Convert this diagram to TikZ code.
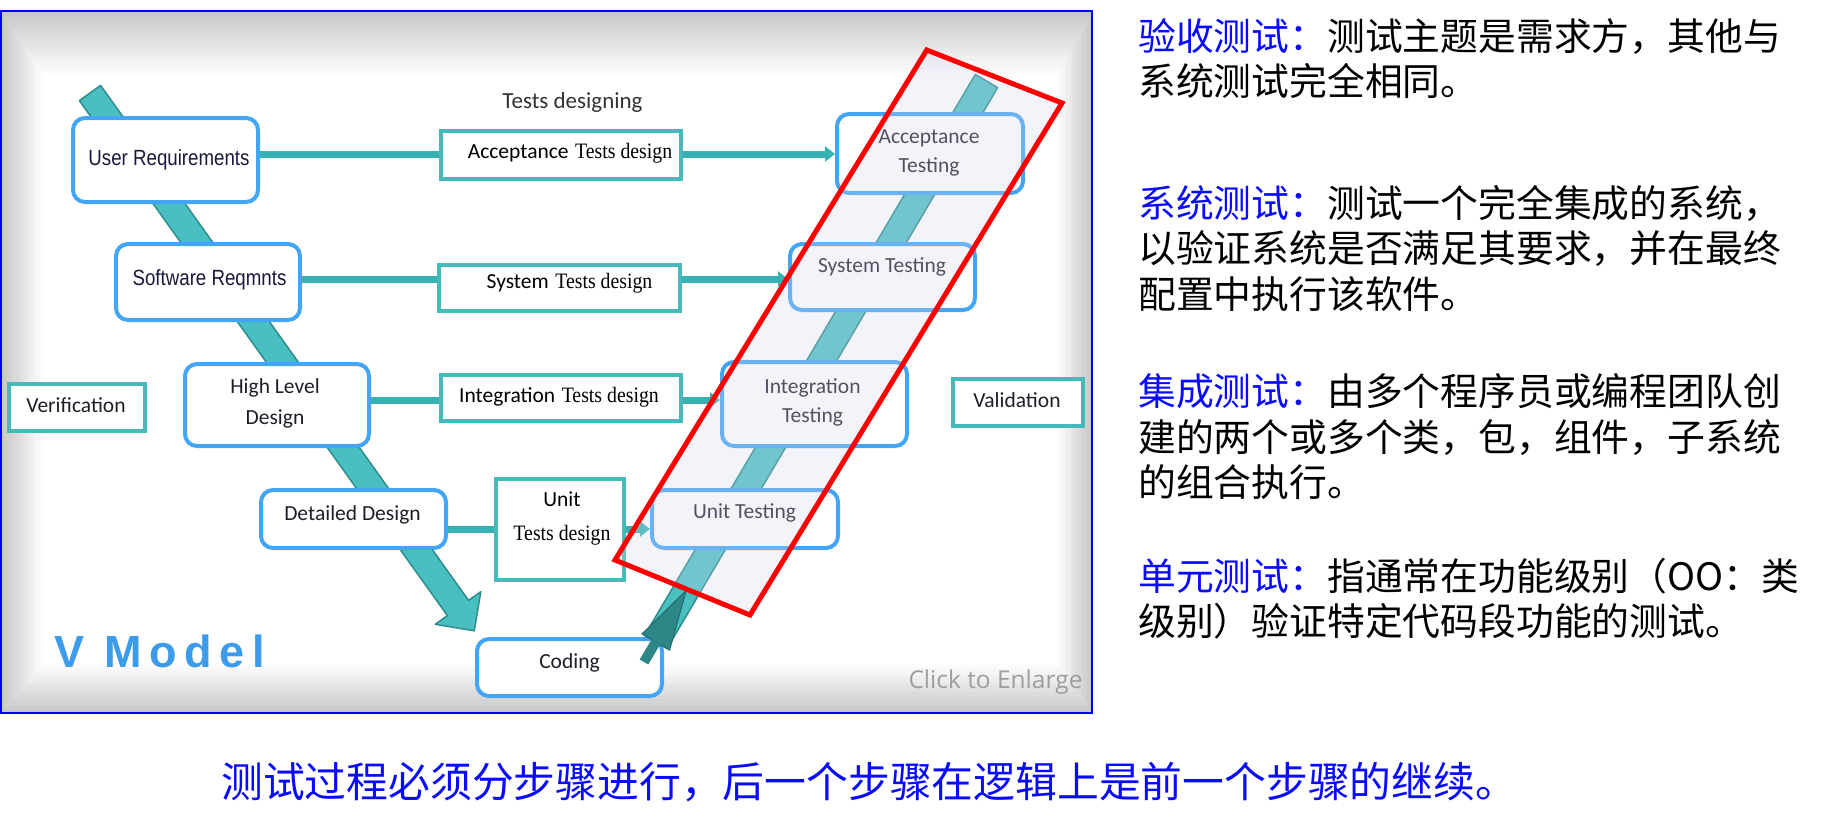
\documentclass[tikz,border=0pt]{standalone}
\usepackage{fontspec}
\usetikzlibrary{arrows.meta}
\newfontfamily\cjk{Noto Sans CJK SC}
\newfontfamily\boxfont{Carlito}
\newfontfamily\narrowfont{Liberation Sans}[FakeStretch=0.85]
\newfontfamily\tdfont{Liberation Serif}[FakeStretch=0.9]
\newfontfamily\osfont{Open Sans}
\newfontfamily\vfont{Liberation Sans}[LetterSpace=17]
\definecolor{rblue}{RGB}{66,165,245}
\definecolor{tealbox}{RGB}{70,186,186}
\definecolor{tealline}{RGB}{55,178,178}
\definecolor{band}{RGB}{74,191,193}
\definecolor{bandedge}{RGB}{46,140,140}
\definecolor{darkhead}{RGB}{45,135,135}
\definecolor{lav}{RGB}{214,214,240}
\definecolor{vblue}{RGB}{60,155,235}
\definecolor{txtblue}{RGB}{10,10,255}
\definecolor{boxtxt}{RGB}{30,30,40}
\definecolor{navytxt}{RGB}{25,25,60}
\tikzset{
 rbox/.style={draw=rblue, line width=4pt, rounded corners=12pt, fill=white, inner sep=0pt},
 tbox/.style={draw=tealbox, line width=3.5pt, fill=white, inner sep=0pt},
 lbl/.style={inner sep=0pt, text=boxtxt, font=\boxfont\fontsize{21.5}{29}\selectfont, align=center},
 nlbl/.style={inner sep=0pt, text=navytxt, font=\narrowfont\fontsize{22}{26}\selectfont},
 tdl/.style={inner sep=0pt, text=black, font=\fontsize{21.5}{26}\selectfont, align=center},
 conn/.style={draw=tealline, line width=7pt},
 connshadow/.style={draw=black, line width=7pt, draw opacity=0.18, yshift=-3pt},
 connarrow/.style={conn, -{Triangle[length=10pt,width=15pt]}},
 cn/.style={inner sep=0pt, anchor=base west, font=\cjk\fontsize{37.8}{45}\selectfont},
 bandstyle/.style={fill=band, draw=bandedge, line width=1.5pt, line join=round},
}
\begin{document}
\begin{tikzpicture}[x=1pt,y=-1pt]
\useasboundingbox (0,0) rectangle (1826,831);
% background vignette
\foreach \i in {0,...,14} {
  \pgfmathtruncatemacro\g{22*(1-\i/14)}
  \fill[black!\g] (1+3*\i, 11+4.5*\i) rectangle (1092-2.5*\i, 713-3.5*\i);
}
% left band
\path[bandstyle] (100.6,85.4) -- (468.6,600.4) -- (480.8,591.7) -- (474.3,630.8)
  -- (435.2,624.3) -- (447.4,615.6) -- (79.4,100.6) -- cycle;
% coding node
\node[rbox, minimum width=185, minimum height=57] (CO) at (569.5,667.5) {};
\node[lbl] (COt) at (569.5,663) {Coding};
% right band
\path[bandstyle] (997.7,87.6) -- (975.3,74.4) -- (644.6,635.4) -- (667,648.6) -- cycle;
\path[fill=darkhead, draw=darkhead!80!black, line width=1pt] (642,633.9) -- (669.6,650.1) -- (686.3,590.3) -- cycle;
\path[fill=darkhead] (651.5,639.5) -- (660.1,644.5) -- (648.3,664.5) -- (639.7,659.5) -- cycle;
% nodes
\node[rbox, minimum width=185, minimum height=84] (UR) at (165.5,160) {};
\node[rbox, minimum width=184, minimum height=76] (SR) at (208,282) {};
\node[rbox, minimum width=184, minimum height=82] (HLD) at (277,405) {};
\node[rbox, minimum width=185, minimum height=58] (DD) at (353.5,519) {};
\node[rbox, minimum width=186, minimum height=58] (UT) at (745,519) {};
\node[rbox, minimum width=185, minimum height=84] (IT) at (814.5,404) {};
\node[rbox, minimum width=185, minimum height=66] (ST) at (882.5,277) {};
\node[rbox, minimum width=186, minimum height=79] (AT) at (930,153.5) {};
\node[tbox, minimum width=240, minimum height=48] (ATD) at (561,155) {};
\node[tbox, minimum width=241, minimum height=46] (STD) at (559.5,288) {};
\node[tbox, minimum width=240, minimum height=46] (ITD) at (561,398) {};
\node[tbox, minimum width=128, minimum height=101] (UTD) at (560,529.5) {};
\node[tbox, minimum width=136, minimum height=47] (VER) at (77,407.5) {};
\node[tbox, minimum width=130, minimum height=47] (VAL) at (1018,402.5) {};
% connectors
\coordinate (y1) at (0,154);
\coordinate (y2) at (0,279);
\coordinate (y3) at (0,400);
\coordinate (y4) at (0,529);
\foreach \a/\b/\c/\d/\y in {UR/ATD/ATD/AT/y1, SR/STD/STD/ST/y2, HLD/ITD/ITD/IT/y3, DD/UTD/UTD/UT/y4} {
  \draw[connshadow] (\a.east |- \y) -- (\b.west |- \y);
  \draw[conn] (\a.east |- \y) -- (\b.west |- \y);
  \draw[connshadow] (\c.east |- \y) -- ([xshift=-8pt]\d.west |- \y);
  \draw[connarrow] (\c.east |- \y) -- (\d.west |- \y);
}
% labels
\node[nlbl] (URt) at (169,160) {User Requirements};
\node[nlbl] (SRt) at (209.5,280) {Software Reqmnts};
\node[lbl, font=\boxfont\fontsize{21.5}{31}\selectfont] (HLDt) at (275,403.5) {High Level\\Design};
\node[lbl] (DDt) at (352.5,515) {Detailed Design};
\node[lbl] (UTt) at (744.5,513) {Unit Testing};
\node[lbl] (ITt) at (812.5,402.5) {Integration\\Testing};
\node[lbl] (STt) at (882,267) {System Testing};
\node[lbl] (ATt) at (929,152.5) {Acceptance\\Testing};
\node[tdl] (ATDt) at (570,153) {{\boxfont Acceptance} {\tdfont\fontsize{22}{26}\selectfont Tests design}};
\node[tdl] (STDt) at (569.5,283) {{\boxfont System} {\tdfont\fontsize{22}{26}\selectfont Tests design}};
\node[tdl] (ITDt) at (559,397) {{\boxfont Integration} {\tdfont\fontsize{22}{26}\selectfont Tests design}};
\node[tdl, font=\fontsize{21.5}{34}\selectfont] (UTDt) at (562,518) {{\boxfont Unit}\\{\tdfont\fontsize{22}{34}\selectfont Tests design}};
\node[lbl] (VERt) at (76,405) {Verification};
\node[lbl] (VALt) at (1017,400) {Validation};
\node[inner sep=0pt, text=black!80, font=\boxfont\fontsize{23}{28}\selectfont] (TDG) at (572.5,102) {Tests designing};
\node[inner sep=0pt, text=black!38, font=\osfont\fontsize{24.5}{28}\selectfont] (CLK) at (995.5,682) {Click to Enlarge};
\node[inner sep=0pt, anchor=base west, text=vblue, font=\vfont\bfseries\fontsize{45}{50}\selectfont] (VM) at (54,667) {V Model};
% red highlight
\path[fill=lav, fill opacity=0.28, draw=red, line width=5pt, line join=miter]
  (926.7,50) -- (1062,103) -- (750,615) -- (615,560) -- cycle;
% frame
\draw[blue, line width=2pt] (1,11) rectangle (1092,713);
% right text
\node[cn] (p1a) at (1138,50.7) {\textcolor{txtblue}{验收测试：}测试主题是需求方，其他与};
\node[cn] (p1b) at (1138,95.5) {系统测试完全相同。};
\node[cn] (p2a) at (1138,217) {\textcolor{txtblue}{系统测试：}测试一个完全集成的系统，};
\node[cn] (p2b) at (1138,262) {以验证系统是否满足其要求，并在最终};
\node[cn] (p2c) at (1138,308) {配置中执行该软件。};
\node[cn] (p3a) at (1138,405) {\textcolor{txtblue}{集成测试：}由多个程序员或编程团队创};
\node[cn] (p3b) at (1138,451) {建的两个或多个类，包，组件，子系统};
\node[cn] (p3c) at (1138,496) {的组合执行。};
\node[cn] (p4a) at (1138,590) {\textcolor{txtblue}{单元测试：}指通常在功能级别（OO：类};
\node[cn] (p4b) at (1138,635) {级别）验证特定代码段功能的测试。};
\node[cn, text=txtblue, font=\cjk\fontsize{41.8}{48}\selectfont] (bottom) at (221,797) {测试过程必须分步骤进行，后一个步骤在逻辑上是前一个步骤的继续。};
\end{tikzpicture}
\end{document}
